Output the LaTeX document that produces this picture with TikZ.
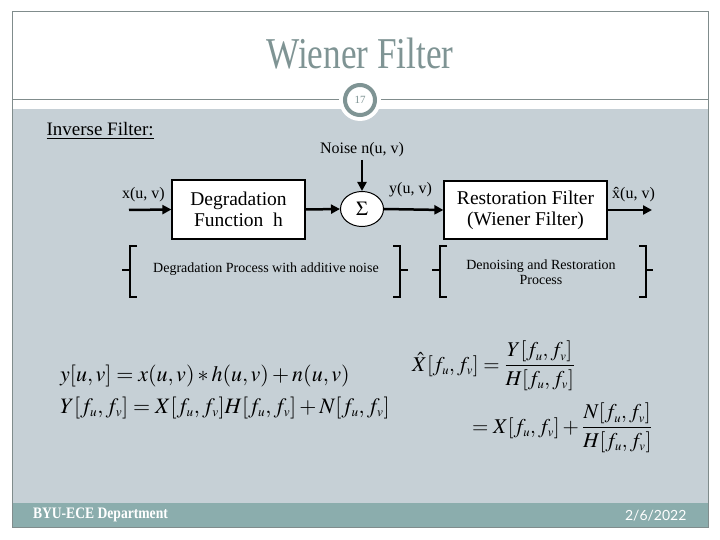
\documentclass[tikz,border=0pt]{standalone}
\usepackage{mathptmx}
\usepackage{fontspec}
\setmainfont{Liberation Serif}
\newfontfamily\datefont{Lato}
\usetikzlibrary{arrows.meta,shapes.geometric}
\definecolor{slidegray}{RGB}{198,208,214}
\definecolor{footteal}{RGB}{139,173,173}
\definecolor{titleteal}{RGB}{127,148,148}
\definecolor{framegray}{RGB}{128,140,140}
\newcommand{\fsub}[1]{f_{\scriptscriptstyle #1}}
\tikzset{
  blockbox/.style={draw, line width=1.2pt, fill=white, align=center, inner sep=0pt,
    font=\fontsize{19.5}{21}\selectfont},
  sig/.style={lbl, font=\fontsize{16}{18}\selectfont},
  lbl/.style={inner sep=1pt},
  flow/.style={line width=2.5pt, -{Triangle[length=9pt,width=9pt]}},
  brk/.style={line width=2.5pt},
  note/.style={align=center, font=\fontsize{14}{15}\selectfont},
  eqn/.style={inner sep=0pt, font=\fontsize{22}{26}\selectfont}
}
\begin{document}
\begin{tikzpicture}[x=1pt,y=-1pt]
\useasboundingbox[fill=white] (0,0) rectangle (720,540);

% slide frame
\fill[slidegray] (12,109) rectangle (708,503);
\fill[footteal] (12,503) rectangle (708,527);
\draw[framegray, line width=1pt] (12,12) rectangle (708,527);
\draw[framegray, line width=1pt] (12,100) -- (708,100);
\fill[white] (360,100) circle (21);
\draw[titleteal, line width=4pt] (360,100) circle (15);
\node[titleteal, font=\fontsize{11}{12}\selectfont] (pagenum) at (360,100) {17};
\node[titleteal, xscale=0.8, font=\fontsize{44}{50}\selectfont] (title) at (360,54) {Wiener Filter};
\node[white, anchor=west, xscale=0.85, font=\bfseries\fontsize{16}{18}\selectfont] (dept) at (30,515) {BYU-ECE Department};
\node[white, anchor=east, font=\datefont\fontsize{14}{16}\selectfont] (date) at (690,516) {2/6/2022};

\node[anchor=west, font=\fontsize{19}{21}\selectfont] (heading) at (43,131) {\underline{Inverse Filter:}};

% block diagram
\node[blockbox, minimum width=133pt, minimum height=59pt] (degr) at (238.5,209.5) {Degradation\\Function~~h};
\node[draw, line width=1pt, fill=white, ellipse, minimum width=43pt, minimum height=35pt, inner sep=0pt,
  font=\fontsize{20}{22}\selectfont] (sum) at (362,209) {$\Sigma$};
\node[blockbox, minimum width=163pt, minimum height=58pt] (restore) at (525.5,210) {Restoration Filter\\(Wiener Filter)};
\coordinate (xin) at (129,210);
\coordinate (xout) at (652,210);
\coordinate (nin) at (362,160);

\node[sig, anchor=east] (xlbl) at (166,195) {x(u, v)};
\node[sig, anchor=west] (ylbl) at (388,190) {y(u, v)};
\node[sig, anchor=west] (xhlbl) at (611,195) {\^{x}(u, v)};
\node[sig] (noise) at (362,150) {Noise n(u, v)};

\draw[flow] (xin) -- (degr.west);
\draw[flow] (degr.east) -- (sum.west);
\draw[flow] (nin) -- (sum.north);
\draw[flow] (sum.east) -- (restore.west);
\draw[flow] (restore.east) -- (xout);

% brackets
\draw[brk] (137,246) -- (130,246) -- (130,297) -- (137,297) (130,270) -- (122,270);
\draw[brk] (393,246) -- (400,246) -- (400,297) -- (393,297) (400,270) -- (408,270);
\draw[brk] (447,246) -- (440,246) -- (440,297) -- (447,297) (440,270) -- (432,270);
\draw[brk] (639,246) -- (646,246) -- (646,297) -- (639,297) (646,270) -- (653,270);
\node[note] (degrnote) at (266,269) {Degradation Process with additive noise};
\node[note] (restnote) at (541,272) {Denoising and Restoration\\Process};

% equations
\node[eqn, anchor=west] (eqa) at (60,376) {$y[u,v]=x(u,v)*h(u,v)+n(u,v)$};
\node[eqn, anchor=west] (eqb) at (60,408) {$Y[\fsub{u},\fsub{v}]=X[\fsub{u},\fsub{v}]H[\fsub{u},\fsub{v}]+N[\fsub{u},\fsub{v}]$};
\node[eqn, anchor=west, font=\fontsize{21}{25}\selectfont] (eqc) at (412,366) {$\displaystyle\hat{X}[\fsub{u},\fsub{v}]=\frac{Y[\fsub{u},\fsub{v}]}{H[\fsub{u},\fsub{v}]}$};
\node[eqn, anchor=west, font=\fontsize{21}{25}\selectfont] (eqd) at (472,428) {$\displaystyle=X[\fsub{u},\fsub{v}]+\frac{N[\fsub{u},\fsub{v}]}{H[\fsub{u},\fsub{v}]}$};
\end{tikzpicture}
\end{document}
